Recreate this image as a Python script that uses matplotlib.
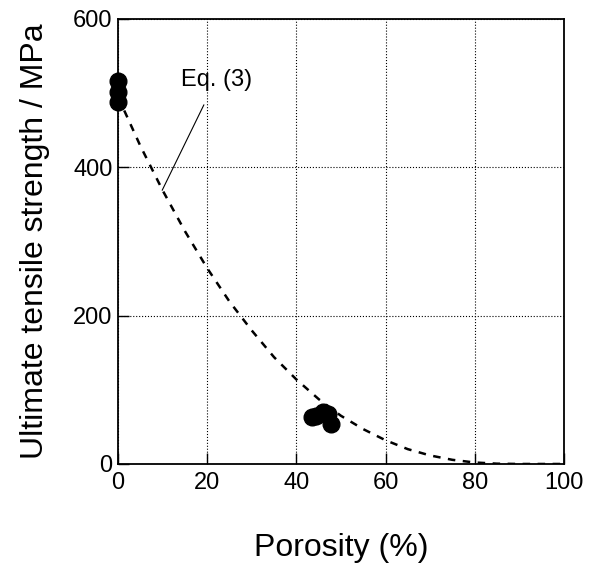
import matplotlib.pyplot as plt
import numpy as np

plt.rcParams['font.family'] = ['Liberation Sans', 'DejaVu Sans']

# measured strength data
p_dense = [0, 0, 0]
s_dense = [516, 501, 488]
p_porous = [43.5, 44.5, 46.0, 47.0, 47.8]
s_porous = [63, 65, 70, 68, 54]

# Eq. (3) curve
p_eq = [0, 5, 10, 15, 20, 25, 30, 35, 40, 45, 50, 55, 60, 65, 70, 75, 80, 85, 90, 95, 100]
s_eq = [495, 429, 369, 314, 264, 219, 180, 144, 114, 87.5, 65, 47, 32, 20, 11.5, 5.6, 2, 0.4, 0, 0, 0]

fig = plt.figure(figsize=(5.94, 5.67), dpi=100)
ax = fig.add_axes([0.1987, 0.1817, 0.7505, 0.7848])

ax.plot(p_eq, s_eq, 'k--', linewidth=1.8, dashes=(3, 3))
ax.plot(p_dense + p_porous, s_dense + s_porous, 'o', color='k', markersize=12, clip_on=False)

ax.annotate('Eq. (3)', xy=(9.9, 369), xytext=(22.0, 518),
            fontsize=17, ha='center', va='center',
            arrowprops=dict(arrowstyle='-', color='k', lw=0.8, shrinkA=9, shrinkB=0))

ax.set_xlim(0, 100)
ax.set_ylim(0, 600)
ax.set_xticks([0, 20, 40, 60, 80, 100])
ax.set_yticks([0, 200, 400, 600])
ax.grid(True, linestyle=':', color='k', linewidth=0.8)
ax.tick_params(direction='in', length=8, width=1, labelsize=17, top=False, right=False)
ax.tick_params(axis='x', pad=6)
ax.tick_params(axis='y', pad=4)
for s in ax.spines.values():
    s.set_linewidth(1.3)

ax.set_xlabel('Porosity (%)', fontsize=23)
ax.set_ylabel('Ultimate tensile strength / MPa', fontsize=23)
ax.xaxis.set_label_coords(0.5, -0.189)
ax.yaxis.set_label_coords(-0.1865, 0.5)
ax.xaxis.label.set_va('center')
ax.yaxis.label.set_va('center')

plt.savefig('out.png', dpi=100)
